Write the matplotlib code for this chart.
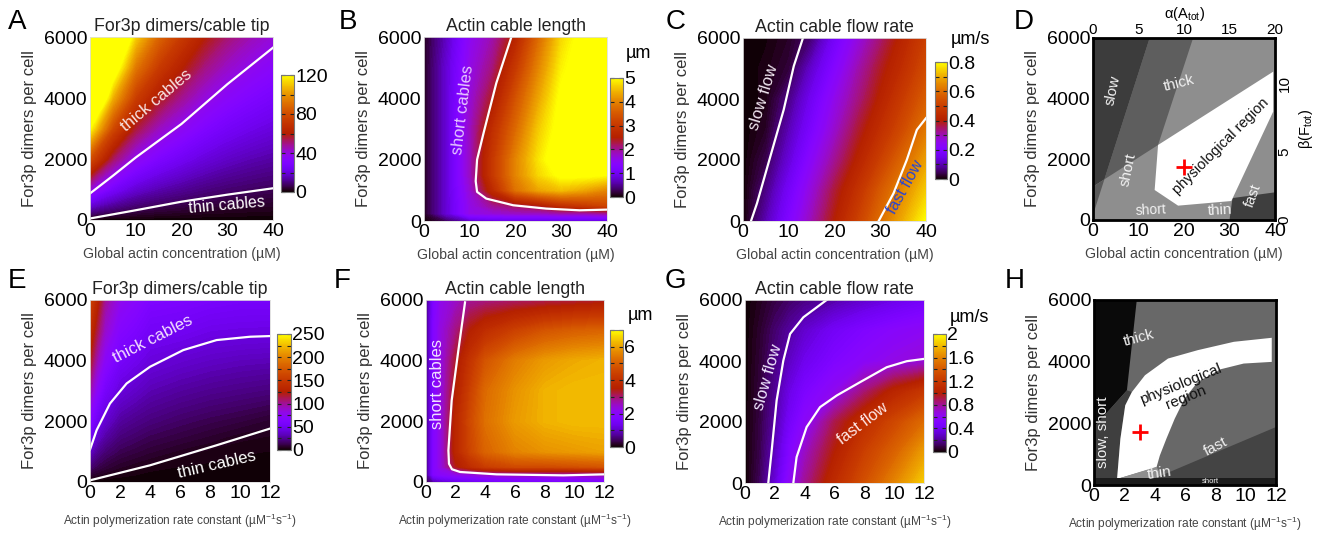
import numpy as np
import matplotlib
matplotlib.use('Agg')
import matplotlib.pyplot as plt
from matplotlib.ticker import MultipleLocator
from matplotlib.patches import Polygon
import matplotlib.cm as cm
from matplotlib.colors import Normalize

plt.rcParams['font.family'] = ['Liberation Sans', 'DejaVu Sans']
plt.rcParams['mathtext.fontset'] = 'custom'
plt.rcParams['mathtext.rm'] = 'Liberation Sans'
plt.rcParams['mathtext.it'] = 'Liberation Sans:italic'

# ---------------- data ----------------
# Panel A: For3p dimers / cable tip (x: global actin uM, y: For3p dimers per cell)
A_x = [0, 5, 10, 15, 20, 25, 30, 35, 40]
A_y = [0, 1000, 2000, 3000, 4000, 5000, 6000]
A_z = [[0, 0, 0, 0, 0, 0, 0, 0, 0],
       [40, 26.2, 18.5, 14.6, 12.1, 10, 8.5, 7.5, 6.7],
       [80, 52.4, 37, 29.2, 24.2, 20, 17.1, 15, 13.5],
       [120, 78.6, 55.5, 43.8, 36.3, 30, 25.6, 22.6, 20.2],
       [160, 105, 74, 58.4, 48.4, 40, 34.2, 30.1, 26.9],
       [200, 131, 92.5, 73, 60.5, 50, 42.7, 37.6, 33.7],
       [240, 157, 111, 87.6, 72.6, 60, 51.2, 45.1, 40.4]]
A_thick_x = [0, 5, 10, 15, 20, 25, 30, 35, 40]
A_thick_y = [870, 1450, 2050, 2600, 3150, 3800, 4450, 5050, 5650]
A_thin_x = [0, 10, 20, 30, 40]
A_thin_y = [50, 320, 600, 830, 1040]

# Panel B: actin cable length (um)
B_x = [0, 5, 10, 15, 20, 25, 30, 35, 40]
B_y = [0, 250, 500, 1000, 1500, 2000, 3000, 4000, 5000, 6000]
B_z = [[0.0, 0.3, 0.7, 0.8, 0.8, 0.8, 0.8, 0.8, 0.8],
       [0.1, 0.8, 1.6, 1.7, 1.8, 1.8, 1.9, 1.9, 2.0],
       [0.1, 0.8, 1.6, 2.0, 2.2, 2.4, 2.8, 3.0, 3.2],
       [0.1, 0.8, 1.7, 2.7, 3.8, 4.3, 4.5, 4.3, 4.0],
       [0.1, 0.8, 1.8, 3.0, 4.0, 4.7, 5.1, 5.1, 5.0],
       [0.1, 0.8, 1.8, 3.0, 4.0, 4.8, 5.4, 5.5, 5.5],
       [0.1, 0.8, 1.8, 2.8, 3.7, 4.6, 5.2, 5.5, 5.5],
       [0.1, 0.8, 1.7, 2.4, 3.4, 4.3, 5.1, 5.4, 5.5],
       [0.1, 0.8, 1.6, 2.1, 3.0, 4.0, 4.9, 5.3, 5.4],
       [0.1, 0.7, 1.5, 1.9, 2.6, 3.7, 4.7, 5.2, 5.3]]
B_short_x = [19.1, 15.8, 13.0, 11.6, 11.3, 11.6, 13.6, 19.5, 26.7, 34.0, 40.0]
B_short_y = [6000, 4495, 2858, 2000, 1300, 950, 731, 513, 404, 349, 371]

# Panel C: actin cable flow rate (um/s)
C_x = [0, 5, 10, 15, 20, 25, 30, 35, 40]
C_y = [0, 1000, 2000, 3000, 4000, 5000, 6000]
C_z = [[0, 0.10, 0.20, 0.30, 0.40, 0.50, 0.60, 0.70, 0.80],
       [0, 0.07, 0.17, 0.27, 0.37, 0.46, 0.56, 0.65, 0.74],
       [0, 0.04, 0.13, 0.23, 0.32, 0.41, 0.50, 0.59, 0.68],
       [0, 0.02, 0.10, 0.19, 0.28, 0.37, 0.45, 0.53, 0.62],
       [0, 0.01, 0.07, 0.16, 0.25, 0.33, 0.41, 0.49, 0.57],
       [0, 0.01, 0.03, 0.12, 0.21, 0.30, 0.38, 0.45, 0.53],
       [0, 0.005, 0.02, 0.06, 0.17, 0.26, 0.34, 0.42, 0.50]]
C_slow_x = [1.75, 3.06, 5.97, 8.9, 11.1, 13.1]
C_slow_y = [0, 580, 2113, 3650, 5080, 6000]
C_fast_x = [29.65, 32.9, 35.8, 38.0, 40.0]
C_fast_y = [0, 908, 2003, 2989, 3372]

# Panel E: For3p dimers / cable tip (x: polymerization rate constant)
E_x = [0, 0.5, 1, 2, 3, 4, 6, 8, 10, 12]
E_y = [0, 500, 1000, 1500, 2000, 3000, 4000, 5000, 6000]
E_z = [[0, 0, 0, 0, 0, 0, 0, 0, 0, 0],
       [18.5, 13, 10, 6.6, 4.6, 3, 2, 1.5, 1, 0.8],
       [35, 25, 19, 13.4, 10.9, 8.7, 5.5, 3.5, 2.5, 2],
       [52, 37, 29, 20, 17, 14, 11, 8, 5, 4],
       [66, 48, 38, 27, 23, 20, 16, 13, 10.5, 7.5],
       [95, 70, 55, 41, 36, 31, 27, 24, 22, 20],
       [120, 92, 72, 54, 48, 42, 38, 35, 33, 32],
       [140, 112, 88, 66, 60, 52, 50, 46, 45, 44.5],
       [160, 130, 100, 78, 70, 62, 60, 57, 55, 55]]
E_thick_x = [0, 0.44, 1.33, 2.44, 4.0, 6.22, 8.44, 10.67, 12]
E_thick_y = [1068, 1706, 2587, 3248, 3798, 4349, 4679, 4789, 4811]
E_thin_x = [0, 4.0, 8.44, 12]
E_thin_y = [55, 550, 1211, 1761]

# Panel F: actin cable length (um)
F_x = [0, 0.5, 1, 2, 3, 4, 6, 8, 10, 12]
F_y = [0, 250, 500, 1000, 2000, 3000, 4000, 5000, 6000]
F_z = [[0.3, 0.8, 1.0, 1.2, 1.3, 1.4, 1.5, 1.5, 1.6, 1.6],
       [0.5, 1.8, 2.0, 2.2, 2.3, 2.5, 2.6, 2.6, 2.6, 2.7],
       [0.5, 1.8, 2.3, 3.4, 3.9, 4.3, 4.6, 4.6, 4.7, 4.8],
       [0.5, 1.8, 2.3, 3.7, 4.5, 5.1, 5.6, 5.8, 5.9, 6.0],
       [0.5, 1.8, 2.3, 3.7, 4.6, 5.3, 5.9, 6.2, 6.3, 6.3],
       [0.5, 1.8, 2.3, 3.5, 4.4, 5.2, 5.8, 6.2, 6.3, 6.3],
       [0.5, 1.8, 2.3, 3.3, 4.1, 4.8, 5.5, 5.9, 6.1, 6.2],
       [0.5, 1.8, 2.3, 2.9, 3.5, 3.9, 4.4, 4.8, 5.0, 5.1],
       [0.5, 1.7, 2.2, 2.5, 2.8, 2.9, 3.0, 3.1, 3.2, 3.3]]
F_short_x = [2.63, 2.18, 1.73, 1.51, 1.55, 1.75, 2.3, 4.76, 9.26, 12]
F_short_y = [5923, 4333, 2687, 1042, 600, 420, 330, 252, 219, 252]

# Panel G: actin cable flow rate (um/s)
G_x = [0, 1, 2, 3, 4, 6, 8, 10, 12]
G_y = [0, 1000, 2000, 3000, 4000, 5000, 6000]
G_z = [[0, 0.12, 0.32, 0.60, 0.80, 1.10, 1.35, 1.60, 1.85],
       [0, 0.10, 0.27, 0.52, 0.72, 1.00, 1.25, 1.45, 1.70],
       [0, 0.09, 0.22, 0.43, 0.58, 0.90, 1.12, 1.30, 1.50],
       [0, 0.08, 0.20, 0.36, 0.48, 0.62, 0.85, 1.05, 1.20],
       [0, 0.07, 0.17, 0.28, 0.38, 0.50, 0.58, 0.64, 0.68],
       [0, 0.06, 0.14, 0.22, 0.30, 0.42, 0.50, 0.56, 0.60],
       [0, 0.04, 0.09, 0.13, 0.17, 0.23, 0.30, 0.36, 0.42]]
G_slow_x = [1.56, 1.79, 2.12, 2.57, 3.02, 3.91, 5.47]
G_slow_y = [0, 1069, 2705, 4015, 4887, 5433, 6000]
G_fast_x = [3.24, 3.46, 4.13, 5.03, 6.15, 7.71, 9.5, 10.84, 12]
G_fast_y = [0, 851, 1833, 2487, 2869, 3305, 3796, 3993, 4069]

# Panel D: phase diagram regions (x: actin uM, y: For3p dimers)
D_slow_x = [0, 12.45, 2.5, 0]
D_slow_y = [6000, 6000, 1340, 1100]
D_slowshort_x = [12.45, 22.0, 14.3, 2.5]
D_slowshort_y = [6000, 6000, 2473, 1340]
D_corner_x = [0, 2.5, 0]
D_corner_y = [1100, 1340, 165]
D_fastthin_x = [30.0, 40, 40, 30.66]
D_fastthin_y = [0, 0, 912, 723]
D_phys_x = [14.3, 39.6, 39.6, 30.4, 18.7, 13.55]
D_phys_y = [2473, 4890, 3572, 626, 473, 989]
D_star = (20.0, 1760)

# Panel H: phase diagram regions (x: polymerization rate constant)
H_black_x = [0, 2.82, 2.17, 0]
H_black_y = [6000, 6000, 3070, 1877]
H_slowshort_x = [0, 2.17, 2.5, 2.06, 1.74, 1.52, 0]
H_slowshort_y = [1877, 3070, 3016, 2582, 1497, 195, 195]
H_phys_x = [1.52, 1.74, 2.06, 2.5, 3.36, 4.88, 6.84, 9.22, 11.72,
            11.72, 9.87, 8.35, 6.84, 5.97, 5.32, 4.77, 4.34, 4.12]
H_phys_y = [195, 1497, 2582, 3016, 3559, 4101, 4373, 4644, 4774,
            3993, 3939, 3754, 3342, 2799, 2148, 1497, 955, 575]
H_fast_x = [4.0, 12, 12, 4.0]
H_fast_y = [217, 1880, 217, 217]
H_thin_x = [1.52, 4.12, 4.45, 4.0, 1.52]
H_thin_y = [195, 590, 310, 217, 217]
H_short_x = [0, 12, 12, 0]
H_short_y = [0, 0, 217, 217]
H_star = (3.04, 1714)

# ---------------- figure ----------------
W, H = 1326, 534
fig = plt.figure(figsize=(W / 100, H / 100), dpi=100)
cmap = plt.get_cmap('gnuplot')
TICK = 14


def rect(l, t, r, b):
    return [l / W, 1 - b / H, (r - l) / W, (b - t) / H]


def style_axes(ax, xticks, xlabel, title=None):
    ax.set_ylim(0, 6000)
    ax.set_yticks([0, 2000, 4000, 6000])
    ax.set_xticks(xticks)
    ax.tick_params(length=0, labelsize=TICK, pad=2)
    ax.set_ylabel('For3p dimers per cell', fontsize=12, color='#333333', labelpad=5)
    if 'Global' in xlabel:
        ax.set_xlabel(xlabel, fontsize=10.2, color='#444444', labelpad=5)
    else:
        ax.set_xlabel(xlabel, fontsize=8.6, color='#444444', labelpad=7)
    if title:
        ax.set_title(title, fontsize=12.8, color='#222222', pad=4)


def heat(pos, x, y, z, vmax, xticks, xlabel, title):
    ax = fig.add_axes(rect(*pos))
    levels = np.linspace(0, vmax, 121)
    ax.contourf(x, y, np.array(z), levels=levels, cmap=cmap, extend='both')
    ax.set_xlim(x[0], x[-1])
    style_axes(ax, xticks, xlabel, title)
    for s in ax.spines.values():
        s.set_color('#dddddd')
        s.set_linewidth(0.6)
    return ax


def cbar(pos, vmax, ticks, labels, minor):
    cax = fig.add_axes(rect(*pos))
    sm = cm.ScalarMappable(norm=Normalize(0, vmax), cmap=cmap)
    cb = fig.colorbar(sm, cax=cax, ticks=ticks)
    cb.set_ticklabels(labels)
    cax.yaxis.set_minor_locator(MultipleLocator(minor))
    cax.tick_params(which='both', direction='in', left=True, right=True,
                    length=3, width=0.8, color='#222222', labelsize=TICK, pad=1)
    cb.outline.set_linewidth(0.8)
    cb.outline.set_edgecolor('#777777')
    return cax


xlab_A = 'Global actin concentration (µM)'
xlab_E = 'Actin polymerization rate constant (µM$^{-1}$s$^{-1}$)'
ANN = dict(ha='center', va='center', rotation_mode='anchor')

# ---- A ----
axA = heat((90, 37, 273, 220), A_x, A_y, A_z, 120, [0, 10, 20, 30, 40], xlab_A,
           'For3p dimers/cable tip')
axA.plot(A_thick_x, A_thick_y, color='white', lw=1.6)
axA.plot(A_thin_x, A_thin_y, color='white', lw=1.6)
axA.text(14.6, 3934, 'thick cables', color='#f8e4e4', fontsize=12, rotation=40, **ANN)
axA.text(29.9, 470, 'thin cables', color='white', fontsize=11.5, rotation=5, **ANN)
cbar((281, 75, 294, 192), 120, [0, 40, 80, 120], ['0', '40', '80', '120'], 20)

# ---- B ----
axB = heat((424, 37, 607, 221), B_x, B_y, B_z, 5, [0, 10, 20, 30, 40], xlab_A,
           'Actin cable length')
axB.plot(B_short_x, B_short_y, color='white', lw=1.6)
axB.text(8.5, 3620, 'short cables', color='#e6c8ff', fontsize=12, rotation=83, **ANN)
cbar((610, 78, 623, 197), 5, [0, 1, 2, 3, 4, 5], ['0', '1', '2', '3', '4', '5'], 1)
fig.text(638 / W, 1 - 53 / H, 'µm', fontsize=13, ha='center', va='center')

# ---- C ----
axC = heat((743, 38, 926, 221), C_x, C_y, C_z, 0.8, [0, 10, 20, 30, 40], xlab_A,
           'Actin cable flow rate')
axC.plot(C_slow_x, C_slow_y, color='white', lw=1.6)
axC.plot(C_fast_x, C_fast_y, color='white', lw=1.6)
axC.text(4.4, 4065, 'slow flow', color='#f0e6f0', fontsize=12, rotation=73, **ANN)
axC.text(35.4, 1115, 'fast flow', color='#2a46d0', fontsize=11.5, rotation=61, **ANN)
cbar((935, 62, 947, 179), 0.8, [0, 0.2, 0.4, 0.6, 0.8], ['0', '0.2', '0.4', '0.6', '0.8'], 0.1)
fig.text(970 / W, 1 - 40 / H, 'µm/s', fontsize=13, ha='center', va='center')

# ---- E ----
axE = heat((90, 300, 270, 482), E_x, E_y, E_z, 250, [0, 2, 4, 6, 8, 10, 12], xlab_E,
           'For3p dimers/cable tip')
axE.plot(E_thick_x, E_thick_y, color='white', lw=1.6)
axE.plot(E_thin_x, E_thin_y, color='white', lw=1.6)
axE.text(4.2, 4714, 'thick cables', color='#f4e0ff', fontsize=12, rotation=27, **ANN)
axE.text(8.45, 560, 'thin cables', color='white', fontsize=12, rotation=13, **ANN)
cbar((277, 334, 291, 450), 250, [0, 50, 100, 150, 200, 250],
     ['0', '50', '100', '150', '200', '250'], 25)

# ---- F ----
axF = heat((426, 300, 604, 482), F_x, F_y, F_z, 7, [0, 2, 4, 6, 8, 10, 12], xlab_E,
           'Actin cable length')
axF.plot(F_short_x, F_short_y, color='white', lw=1.6)
axF.text(0.8, 3230, 'short cables', color='#f0e0ff', fontsize=12, rotation=90, **ANN)
cbar((610, 330, 623, 447), 7, [0, 2, 4, 6], ['0', '2', '4', '6'], 1)
fig.text(640 / W, 1 - 316 / H, 'µm', fontsize=13, ha='center', va='center')

# ---- G ----
axG = heat((745, 300, 924, 483), G_x, G_y, G_z, 2, [0, 2, 4, 6, 8, 10, 12], xlab_E,
           'Actin cable flow rate')
axG.plot(G_slow_x, G_slow_y, color='white', lw=1.6)
axG.plot(G_fast_x, G_fast_y, color='white', lw=1.6)
axG.text(1.54, 3475, 'slow flow', color='#f0e6ff', fontsize=12, rotation=74, **ANN)
axG.text(7.9, 1934, 'fast flow', color='#ffe8e8', fontsize=11.5, rotation=37, **ANN)
cbar((933, 334, 946, 452), 2, [0, 0.4, 0.8, 1.2, 1.6, 2],
     ['0', '0.4', '0.8', '1.2', '1.6', '2'], 0.2)
fig.text(969 / W, 1 - 317 / H, 'µm/s', fontsize=13, ha='center', va='center')


# ---- D ----
def poly(ax, xs, ys, color, z=1):
    ax.add_patch(Polygon(np.column_stack([xs, ys]), closed=True, facecolor=color,
                         edgecolor='none', zorder=z))


axD = fig.add_axes(rect(1093, 38, 1275, 220))
axD.set_facecolor('#8e8e8e')
axD.set_xlim(0, 40)
style_axes(axD, [0, 10, 20, 30, 40], xlab_A)
poly(axD, D_slowshort_x, D_slowshort_y, '#5e5e5e')
poly(axD, D_slow_x, D_slow_y, '#3c3c3c')
poly(axD, D_corner_x, D_corner_y, '#5a5a5a')
poly(axD, D_fastthin_x, D_fastthin_y, '#3e3e3e')
poly(axD, D_phys_x, D_phys_y, 'white', 2)
axD.plot([D_star[0]], [D_star[1]], marker='+', color='red', ms=12, mew=2, zorder=5)
tk = dict(color='#f2f2f2', ha='center', va='center', rotation_mode='anchor', zorder=4)
axD.text(4.4, 4286, 'slow', fontsize=11, rotation=78, **tk)
axD.text(19.0, 4506, 'thick', fontsize=11, rotation=14, **tk)
axD.text(7.7, 1650, 'short', fontsize=11, rotation=78, **tk)
axD.text(12.8, 330, 'short', fontsize=10, rotation=3, **tk)
axD.text(27.8, 330, 'thin', fontsize=11, rotation=3, **tk)
axD.text(35.2, 820, 'fast', fontsize=10.5, rotation=70, **tk)
axD.text(28.2, 2418, 'physiological region', fontsize=10.5, rotation=45, color='#111111',
         ha='center', va='center', rotation_mode='anchor', zorder=4)
for s in axD.spines.values():
    s.set_linewidth(2)
    s.set_color('black')
    s.set_zorder(6)
topD = axD.secondary_xaxis('top', functions=(lambda v: v / 2, lambda v: v * 2))
topD.set_xticks([0, 5, 10, 15, 20])
topD.tick_params(length=0, labelsize=11, pad=1)
topD.set_xlabel('α(A$_{\\rm tot}$)', fontsize=10.5, labelpad=3)
rightD = axD.secondary_yaxis('right', functions=(lambda v: v / 450, lambda v: v * 450))
rightD.set_yticks([0, 5, 10])
rightD.set_yticklabels(['0', '5', '10'], rotation=90, va='center')
rightD.tick_params(length=0, labelsize=11, pad=2)
rightD.set_ylabel('β(F$_{\\rm tot}$)', fontsize=10.5, labelpad=4)

# ---- H ----
axH = fig.add_axes(rect(1094, 300, 1276, 485))
axH.set_facecolor('#686868')
axH.set_xlim(0, 12)
style_axes(axH, [0, 2, 4, 6, 8, 10, 12], xlab_E)
poly(axH, H_black_x, H_black_y, '#0a0a0a')
poly(axH, H_slowshort_x, H_slowshort_y, '#3f3f3f')
poly(axH, H_fast_x, H_fast_y, '#444444')
poly(axH, H_phys_x, H_phys_y, 'white', 2)
poly(axH, H_thin_x, H_thin_y, '#8e8e8e', 2)
poly(axH, H_short_x, H_short_y, '#1c1c1c', 3)
axH.plot([H_star[0]], [H_star[1]], marker='+', color='red', ms=12, mew=2, zorder=5)
axH.text(2.93, 4752, 'thick', fontsize=11, rotation=15, **tk)
axH.text(0.6, 1714, 'slow, short', fontsize=11, rotation=90, **tk)
axH.text(8.0, 1250, 'fast', fontsize=11, rotation=28, **tk)
axH.text(4.3, 370, 'thin', fontsize=11, rotation=8, **tk)
axH.text(7.7, 108, 'short', fontsize=5.5, rotation=0, **tk)
axH.text(5.9, 3050, 'physiological\nregion', fontsize=11, rotation=22, color='#111111',
         ha='center', va='center', rotation_mode='anchor', linespacing=1.0, zorder=4)
for s in axH.spines.values():
    s.set_linewidth(2)
    s.set_color('black')
    s.set_zorder(6)

# ---- panel letters ----
letters = [('A', 17, 22), ('B', 348, 22), ('C', 676, 22), ('D', 1024, 22),
           ('E', 17, 281), ('F', 342, 281), ('G', 675, 281), ('H', 1015, 281)]
for lab, px, py in letters:
    fig.text(px / W, 1 - py / H, lab, fontsize=20, ha='center', va='center')

fig.savefig('out.png', dpi=100)
